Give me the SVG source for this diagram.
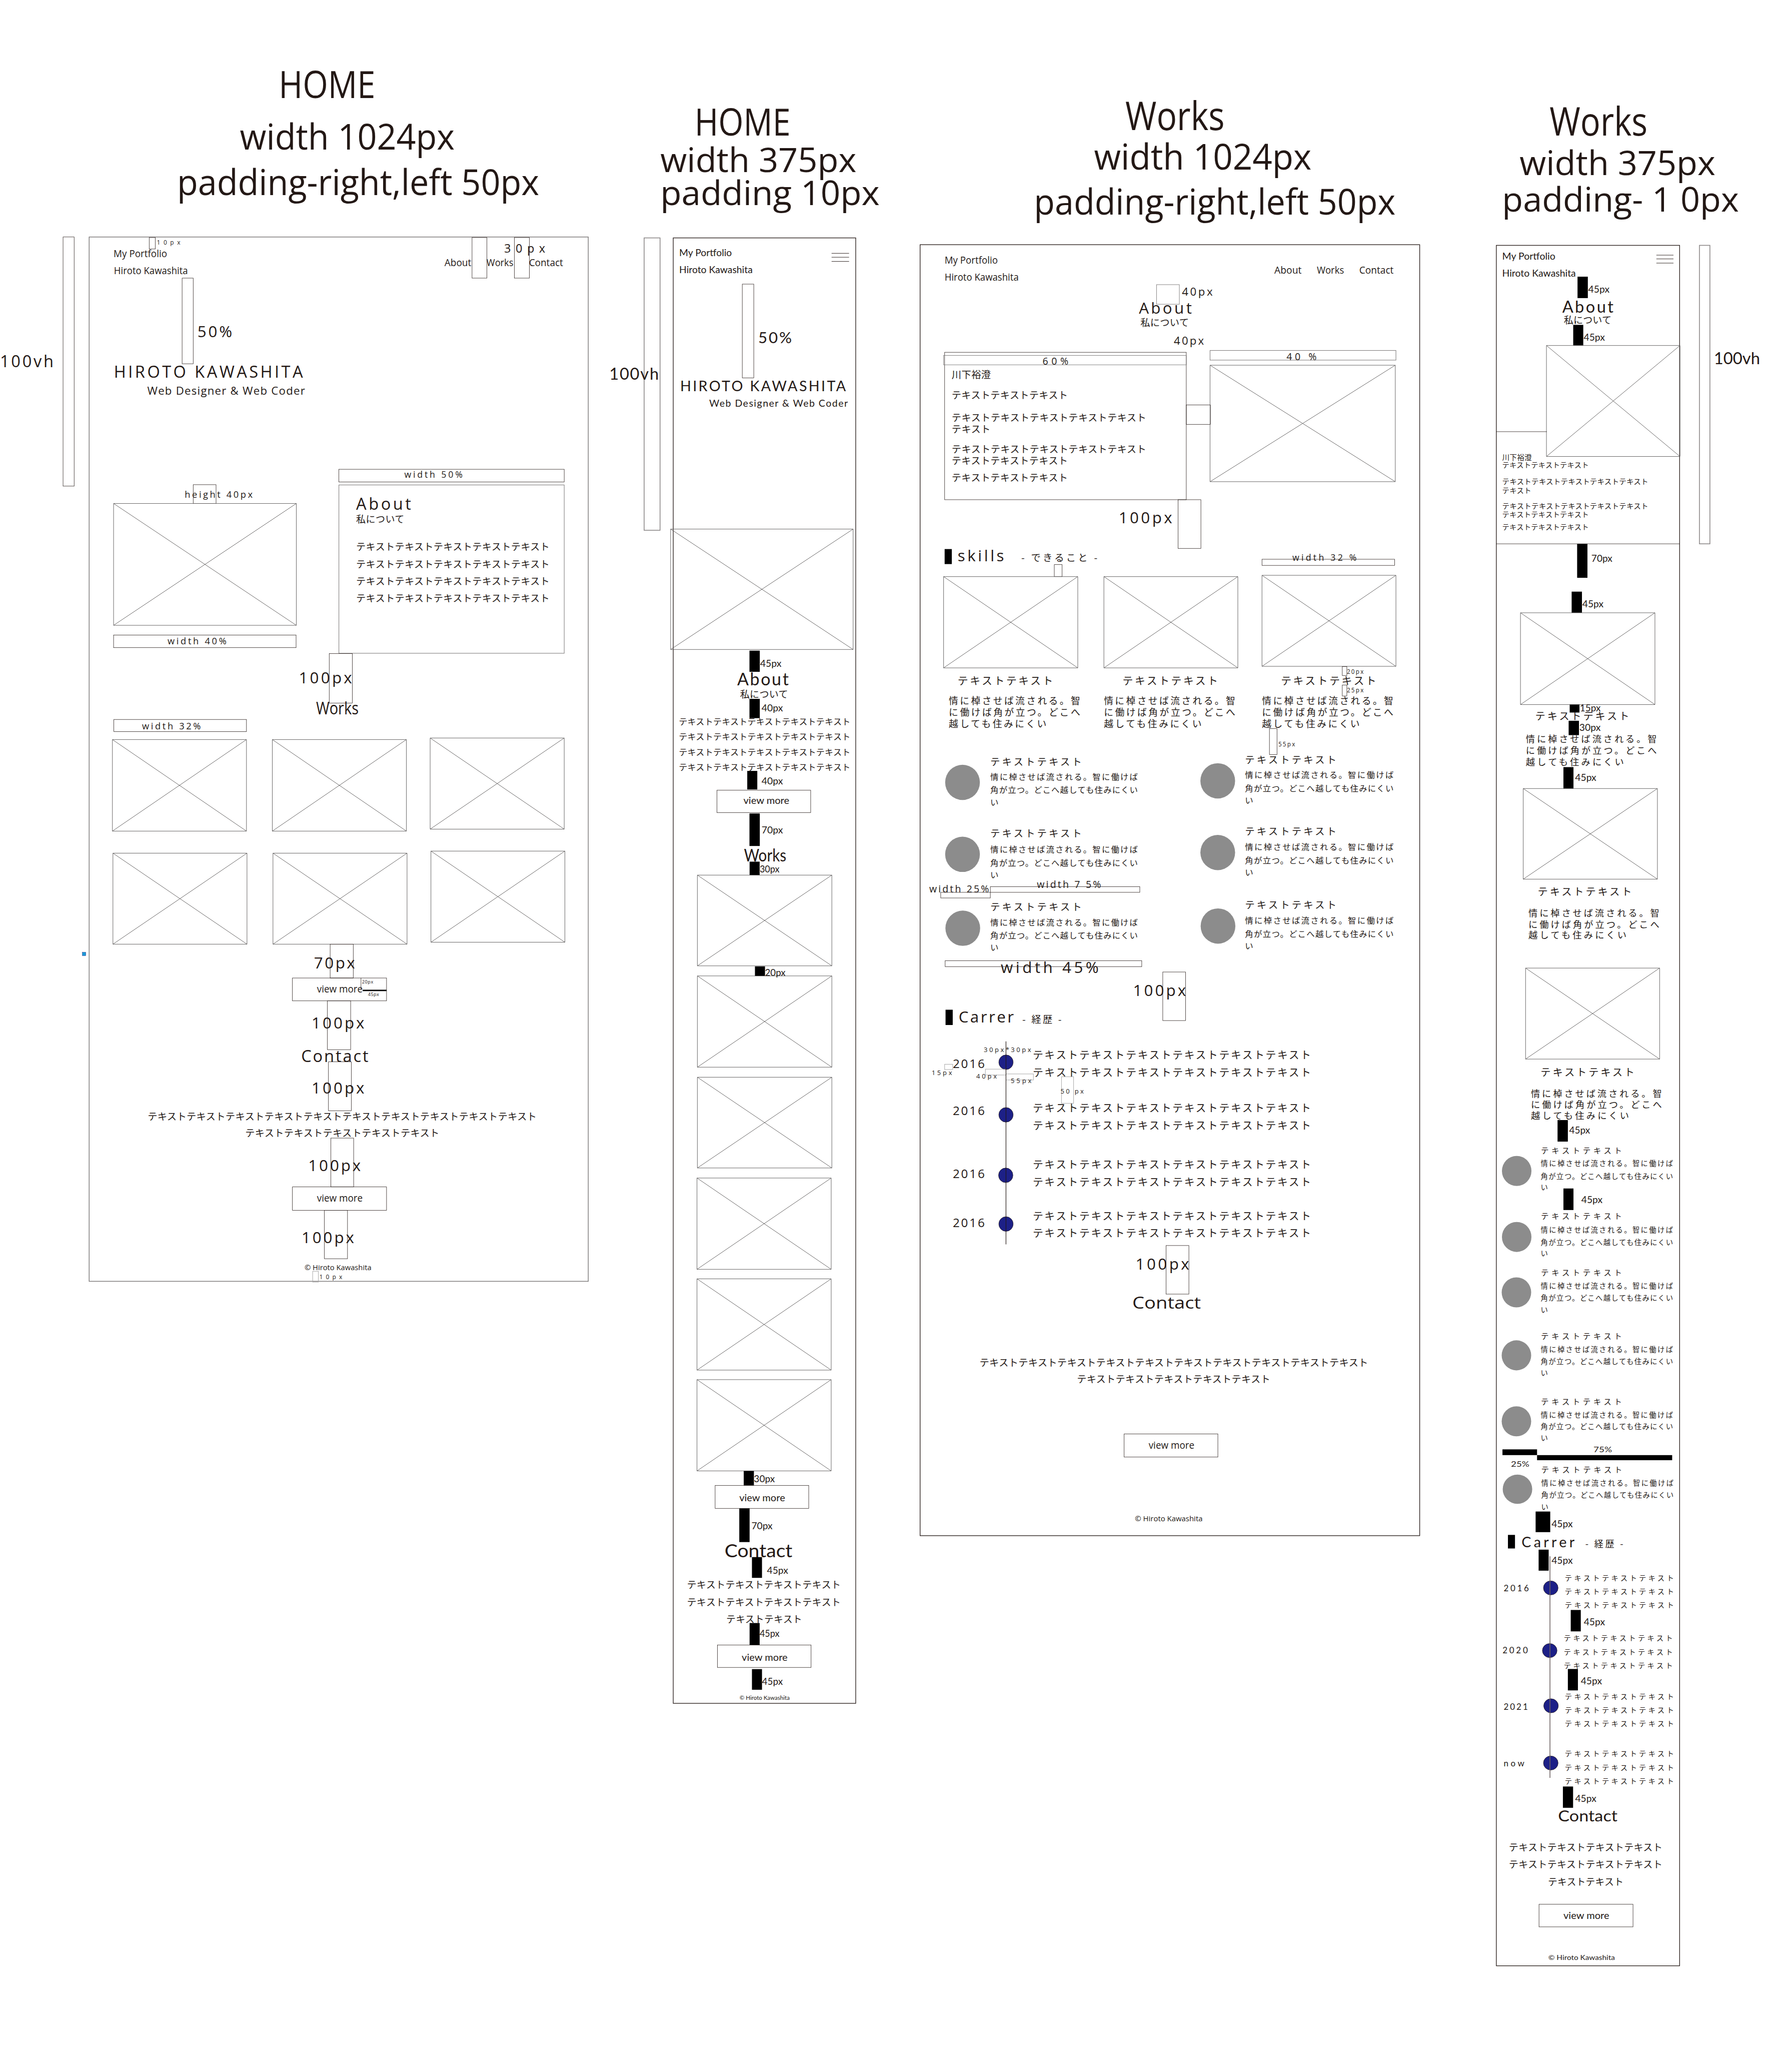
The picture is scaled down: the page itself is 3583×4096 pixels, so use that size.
<svg xmlns="http://www.w3.org/2000/svg" width="3583" height="4096" viewBox="0 0 3583 4096">
<style>
text{font-family:"Open Sans","Noto Sans CJK JP",sans-serif;fill:#231815}
.j{font-family:"Noto Sans CJK JP","Noto Sans CJK SC",sans-serif}
.g{font-family:"Lato","Noto Sans CJK JP",sans-serif}
.m{text-anchor:middle}
.fr{fill:none;stroke:#231815;stroke-width:0.5}
.fg{fill:none;stroke:#7b7878;stroke-width:0.55}
.b{fill:none;stroke:#231815;stroke-width:0.3}
.bg{fill:none;stroke:#a0a0a0;stroke-width:0.35}
.vb{fill:none;stroke:#8a8686;stroke-width:0.6}
.im{fill:none;stroke:#595757;stroke-width:0.35}
.k{fill:#000}
.c{fill:#8c8c8c}
.d{fill:#1d2087;stroke:#231815;stroke-width:0.3}
.ln{stroke:#231815;stroke-width:0.45;fill:none}
.hb{stroke:#231815;stroke-width:0.35}
</style>
<rect width="3583" height="4096" fill="#fff"/>
<g transform="scale(2.6102)">

<g id="titles">
<text class="m" x="250.5" y="75" font-size="29" textLength="74" lengthAdjust="spacingAndGlyphs">HOME</text>
<text class="m" x="266" y="114.6" font-size="27" textLength="164.5" lengthAdjust="spacingAndGlyphs">width 1024px</text>
<text class="m" x="274.3" y="149.4" font-size="27" textLength="277.4" lengthAdjust="spacingAndGlyphs">padding-right,left 50px</text>
<text class="m" x="568.8" y="104" font-size="29" textLength="73.5" lengthAdjust="spacingAndGlyphs">HOME</text>
<text class="m" x="580.9" y="131.6" font-size="26" textLength="150.2" lengthAdjust="spacingAndGlyphs">width 375px</text>
<text class="m" x="589.8" y="157.2" font-size="26" textLength="168" lengthAdjust="spacingAndGlyphs">padding 10px</text>
<text class="m" x="900" y="99.6" font-size="30" textLength="76" lengthAdjust="spacingAndGlyphs">Works</text>
<text class="m" x="921.3" y="130" font-size="27" textLength="166.5" lengthAdjust="spacingAndGlyphs">width 1024px</text>
<text class="m" x="930.5" y="164.4" font-size="27" textLength="277" lengthAdjust="spacingAndGlyphs">padding-right,left 50px</text>
<text class="m" x="1224.5" y="104" font-size="30" textLength="75" lengthAdjust="spacingAndGlyphs">Works</text>
<text class="m" x="1239" y="134.2" font-size="26" textLength="150" lengthAdjust="spacingAndGlyphs">width 375px</text>
<text class="m" x="1241.3" y="162.2" font-size="26" textLength="181.4" lengthAdjust="spacingAndGlyphs">padding- 1 0px</text>
</g>

<g id="home-1024">
<rect class="fg" x="68.3" y="181.5" width="382.3" height="799.8"/>
<rect class="b" x="48.3" y="181.5" width="8.5" height="190.8"/>
<text x="0" y="281.2" font-size="12.5" textLength="42.5" letter-spacing="1.5">100vh</text>
<rect class="b" x="114.3" y="181.9" width="4.7" height="8.8"/>
<text x="120.1" y="187.5" font-size="4.6" textLength="19" letter-spacing="1">10px</text>
<text x="87" y="196.9" font-size="7.5" textLength="41" lengthAdjust="spacingAndGlyphs">My Portfolio</text>
<text x="87.3" y="210" font-size="7.5" textLength="56.6" lengthAdjust="spacingAndGlyphs">Hiroto Kawashita</text>
<text x="340.5" y="204" font-size="7.5" textLength="20.5" lengthAdjust="spacingAndGlyphs">About</text>
<text x="372.7" y="204" font-size="7.5" textLength="20.5" lengthAdjust="spacingAndGlyphs">Works</text>
<text x="405.2" y="204" font-size="7.5" textLength="26.1" lengthAdjust="spacingAndGlyphs">Contact</text>
<rect class="b" x="361.6" y="181.9" width="11.4" height="31.1"/>
<rect class="b" x="394" y="181.9" width="11.5" height="31.1"/>
<text x="386.2" y="193.3" font-size="9" textLength="33.4" letter-spacing="2">30px</text>
<rect class="b" x="139.5" y="213" width="8.5" height="65.6"/>
<text x="151.2" y="258.2" font-size="12" textLength="28.1" letter-spacing="1.5">50%</text>
<text x="87.3" y="289.3" font-size="12.5" textLength="146.2" letter-spacing="1.5">HIROTO KAWASHITA</text>
<text x="112.8" y="302.2" font-size="8.5" textLength="121.3" letter-spacing="0.5">Web Designer &amp; Web Coder</text>
<rect class="b" x="259.6" y="359.4" width="172.6" height="9.7"/>
<text x="309.7" y="365.9" font-size="6.8" textLength="45.4" letter-spacing="0.8">width 50%</text>
<rect class="fg" x="259.6" y="371.4" width="172.6" height="128.9" style="stroke-width:0.4"/>
<text x="272.8" y="390.5" font-size="12.5" textLength="43.6" letter-spacing="1.5">About</text>
<text class="j" x="272.8" y="400.4" font-size="7.3" textLength="36.9">私について</text>
<text class="j" x="272.8" y="421.6" font-size="7.4" textLength="148.2">テキストテキストテキストテキストテキスト</text>
<text class="j" x="272.8" y="434.7" font-size="7.4" textLength="148.2">テキストテキストテキストテキストテキスト</text>
<text class="j" x="272.8" y="447.8" font-size="7.4" textLength="148.2">テキストテキストテキストテキストテキスト</text>
<text class="j" x="272.8" y="460.8" font-size="7.4" textLength="148.2">テキストテキストテキストテキストテキスト</text>
<text x="141.5" y="381.3" font-size="7" textLength="52.8" letter-spacing="0.8">height 40px</text>
<rect class="b" x="148" y="371.2" width="17.5" height="14.4"/>
<path class="im" d="M87 385.6h140v93.3h-140zl140 93.3m-140 0l140 -93.3"/>
<rect class="b" x="87" y="486.4" width="139.8" height="9.6"/>
<text x="128.3" y="493.4" font-size="7" textLength="46" letter-spacing="0.8">width 40%</text>
<rect class="b" x="252.2" y="500.5" width="17.7" height="38"/>
<text x="228.9" y="523.4" font-size="12" textLength="42.2" letter-spacing="1.5">100px</text>
<text x="242.1" y="547.1" font-size="13" textLength="32.6" lengthAdjust="spacingAndGlyphs">Works</text>
<rect class="b" x="87.2" y="551" width="101.6" height="9.3"/>
<text x="108.8" y="558.7" font-size="7" textLength="45.8" letter-spacing="0.8">width 32%</text>
<path class="im" d="M86.1 566.4h102.7v70.1h-102.7zl102.7 70.1m-102.7 0l102.7 -70.1"/>
<path class="im" d="M208.6 566.4h102.7v70.1h-102.7zl102.7 70.1m-102.7 0l102.7 -70.1"/>
<path class="im" d="M329.5 565.2h102.7v69.8h-102.7zl102.7 69.8m-102.7 0l102.7 -69.8"/>
<path class="im" d="M86.5 653.4h102.7v69.7h-102.7zl102.7 69.7m-102.7 0l102.7 -69.7"/>
<path class="im" d="M209.1 653.4h102.7v69.7h-102.7zl102.7 69.7m-102.7 0l102.7 -69.7"/>
<path class="im" d="M330.1 651.8h102.6v69.8h-102.6zl102.6 69.8m-102.6 0l102.6 -69.8"/>
<rect x="63.1" y="729.3" width="2.6" height="2.6" fill="#1a9ad6" stroke="#1d2087" stroke-width="0.2"/>
<rect class="b" x="252.9" y="723.1" width="17.7" height="25.9"/>
<text x="240.5" y="741.6" font-size="12" textLength="32.9" letter-spacing="1.5">70px</text>
<rect class="b" x="224" y="749" width="72.1" height="17.5"/>
<text x="242.8" y="760" font-size="7.5" textLength="35" lengthAdjust="spacingAndGlyphs">view more</text>
<line class="b" x1="276.5" y1="749" x2="276.5" y2="757.6"/>
<text x="277.3" y="753.3" font-size="3.5" textLength="9" letter-spacing="0.4">20px</text>
<line x1="277.8" y1="758.5" x2="296.1" y2="758.5" stroke="#000" stroke-width="1.1"/>
<text x="281.9" y="762.8" font-size="3.5" textLength="8.8" letter-spacing="0.4">45px</text>
<rect class="b" x="250.8" y="766.5" width="17.8" height="37.4"/>
<text x="238.7" y="787.7" font-size="12" textLength="41.9" letter-spacing="1.5">100px</text>
<text x="230.7" y="813.2" font-size="12.5" textLength="52" letter-spacing="0.5">Contact</text>
<rect class="b" x="251.6" y="813.2" width="17.5" height="37.5"/>
<text x="238.7" y="837.4" font-size="12" textLength="41.9" letter-spacing="1.5">100px</text>
<text class="j" x="113.1" y="857.7" font-size="7.45" textLength="298">テキストテキストテキストテキストテキストテキストテキストテキストテキストテキスト</text>
<text class="j" x="187.8" y="870.6" font-size="7.4" textLength="148.7">テキストテキストテキストテキストテキスト</text>
<rect class="b" x="253.4" y="871.6" width="17.5" height="37.4"/>
<text x="236.1" y="896.8" font-size="12" textLength="41.7" letter-spacing="1.5">100px</text>
<rect class="b" x="224" y="909" width="72.1" height="17.9"/>
<text x="242.8" y="920.4" font-size="7.5" textLength="35" lengthAdjust="spacingAndGlyphs">view more</text>
<rect class="b" x="248.5" y="926.9" width="17.7" height="37.1"/>
<text x="231" y="952.1" font-size="12" textLength="41.7" letter-spacing="1.5">100px</text>
<text x="233.3" y="972.7" font-size="5.5" textLength="51.2" lengthAdjust="spacingAndGlyphs">© Hiroto Kawashita</text>
<rect class="bg" x="239.5" y="973.6" width="4.4" height="8.3"/>
<text x="244.6" y="979.7" font-size="4.6" textLength="18.6" letter-spacing="1">10px</text>
</g>

<g id="home-375">
<rect class="vb" x="493.4" y="182.2" width="12.2" height="223.9"/>
<text class="g" x="466.7" y="290.9" font-size="12.5" textLength="40.9" letter-spacing="3">100vh</text>
<rect class="fr" x="515.7" y="182.2" width="139.8" height="1122.3"/>
<text class="g" x="520.3" y="196" font-size="7.5" textLength="40.3" lengthAdjust="spacingAndGlyphs">My Portfolio</text>
<text class="g" x="520.3" y="209.3" font-size="7.5" textLength="56.2" lengthAdjust="spacingAndGlyphs">Hiroto Kawashita</text>
<path class="hb" d="M637 194h13.4M637 197h13.4M637 200.2h13.4"/>
<rect class="b" x="568.6" y="217.6" width="8.8" height="71.8"/>
<text class="g" x="580.8" y="262.8" font-size="12" textLength="27.7" letter-spacing="2">50%</text>
<text class="g" x="521" y="299.7" font-size="11" textLength="129.4" letter-spacing="2.5">HIROTO KAWASHITA</text>
<text class="g" x="543.3" y="311.3" font-size="7.5" textLength="107.1" letter-spacing="1">Web Designer &amp; Web Coder</text>
<path class="im" d="M513.7 405.2h139.8v92.2h-139.8zl139.8 92.2m-139.8 0l139.8 -92.2"/>
<rect class="k" x="574.1" y="498.3" width="7.9" height="16.2"/>
<text class="g" x="582.2" y="510.7" font-size="7.2" textLength="16.4" lengthAdjust="spacingAndGlyphs">45px</text>
<text class="g" x="564.7" y="524.8" font-size="13" textLength="42.4" letter-spacing="3">About</text>
<text class="j" x="566.9" y="534.6" font-size="7.3" textLength="36.7">私について</text>
<rect class="k" x="574.1" y="535.2" width="7.9" height="14.8"/>
<text class="g" x="583.4" y="544.6" font-size="7.2" textLength="16.3" lengthAdjust="spacingAndGlyphs">40px</text>
<text class="j" x="520" y="555.3" font-size="6.57" textLength="131.4">テキストテキストテキストテキストテキスト</text>
<text class="j" x="520" y="566.8" font-size="6.57" textLength="131.4">テキストテキストテキストテキストテキスト</text>
<text class="j" x="520" y="578.6" font-size="6.57" textLength="131.4">テキストテキストテキストテキストテキスト</text>
<text class="j" x="520" y="590.1" font-size="6.57" textLength="131.4">テキストテキストテキストテキストテキスト</text>
<rect class="k" x="572.4" y="590.4" width="7.7" height="14.2"/>
<text class="g" x="583.4" y="600.8" font-size="7.2" textLength="16.3" lengthAdjust="spacingAndGlyphs">40px</text>
<rect class="b" x="549.2" y="605.2" width="71.8" height="17.1"/>
<text class="g" x="569.5" y="615.8" font-size="7" textLength="35.1" lengthAdjust="spacingAndGlyphs">view more</text>
<rect class="k" x="574.1" y="623" width="7.9" height="24.9"/>
<text class="g" x="583.4" y="638.4" font-size="7.2" textLength="16.3" lengthAdjust="spacingAndGlyphs">70px</text>
<text class="g" x="569.9" y="659.9" font-size="13" textLength="32.4" lengthAdjust="spacingAndGlyphs">Works</text>
<rect class="k" x="574.2" y="659.9" width="7.7" height="10.3"/>
<text class="g" x="581.9" y="668" font-size="7.2" textLength="15.2" lengthAdjust="spacingAndGlyphs">30px</text>
<path class="im" d="M534.2 670.2h103v69.5h-103zl103 69.5m-103 0l103 -69.5"/>
<path class="im" d="M534.2 747.4h103v69.9h-103zl103 69.9m-103 0l103 -69.9"/>
<path class="im" d="M534.2 825h103v69.5h-103zl103 69.5m-103 0l103 -69.5"/>
<path class="im" d="M533.9 902.2h102.8v69.9h-102.8zl102.8 69.9m-102.8 0l102.8 -69.9"/>
<path class="im" d="M533.9 979.4h102.8v69.9h-102.8zl102.8 69.9m-102.8 0l102.8 -69.9"/>
<path class="im" d="M533.9 1056.6h102.8v69.9h-102.8zl102.8 69.9m-102.8 0l102.8 -69.9"/>
<rect class="k" x="578.3" y="740.1" width="7.7" height="7.3"/>
<text class="g" x="586" y="747.4" font-size="7.2" textLength="15.7" lengthAdjust="spacingAndGlyphs">20px</text>
<rect class="k" x="569.7" y="1126.5" width="7.8" height="11.1"/>
<text class="g" x="577.5" y="1135" font-size="7.2" textLength="16" lengthAdjust="spacingAndGlyphs">30px</text>
<rect class="b" x="547.8" y="1137.6" width="71.7" height="17.6"/>
<text class="g" x="566.3" y="1149.6" font-size="7" textLength="35.1" lengthAdjust="spacingAndGlyphs">view more</text>
<rect class="k" x="566.3" y="1155.2" width="7.9" height="25.8"/>
<text class="g" x="575.6" y="1171" font-size="7.2" textLength="16.2" lengthAdjust="spacingAndGlyphs">70px</text>
<text class="g" x="555" y="1192.5" font-size="14" textLength="52" lengthAdjust="spacingAndGlyphs">Contact</text>
<rect class="k" x="576" y="1192.5" width="7.7" height="15.9"/>
<text class="g" x="587.5" y="1205.4" font-size="7.2" textLength="16.2" lengthAdjust="spacingAndGlyphs">45px</text>
<text class="j" x="526.2" y="1216.5" font-size="7.36" textLength="117.8">テキストテキストテキストテキスト</text>
<text class="j" x="526.2" y="1229.8" font-size="7.36" textLength="117.8">テキストテキストテキストテキスト</text>
<text class="j" x="556.3" y="1243" font-size="7.26" textLength="58.1">テキストテキスト</text>
<rect class="k" x="574.2" y="1243" width="7.7" height="16.8"/>
<text class="g" x="581.9" y="1253.4" font-size="7.2" textLength="15.2" lengthAdjust="spacingAndGlyphs">45px</text>
<rect class="b" x="549.6" y="1259.8" width="71.7" height="17.2"/>
<text class="g" x="568.2" y="1271.8" font-size="7" textLength="35.1" lengthAdjust="spacingAndGlyphs">view more</text>
<rect class="k" x="576" y="1278.3" width="7.7" height="15.8"/>
<text class="g" x="583.7" y="1290.3" font-size="7.2" textLength="15.9" lengthAdjust="spacingAndGlyphs">45px</text>
<text class="g" x="566.5" y="1301.9" font-size="4.5" textLength="38.4" lengthAdjust="spacingAndGlyphs">© Hiroto Kawashita</text>
</g>

<g id="works-1024">
<rect class="fr" x="704.8" y="187.4" width="382.7" height="988.7"/>
<text x="723.6" y="201.9" font-size="7.5" textLength="40.7" lengthAdjust="spacingAndGlyphs">My Portfolio</text>
<text x="723.6" y="215" font-size="7.5" textLength="56.7" lengthAdjust="spacingAndGlyphs">Hiroto Kawashita</text>
<text x="976.2" y="209.5" font-size="7.5" textLength="20.8" lengthAdjust="spacingAndGlyphs">About</text>
<text x="1008.7" y="209.5" font-size="7.5" textLength="20.8" lengthAdjust="spacingAndGlyphs">Works</text>
<text x="1041.2" y="209.5" font-size="7.5" textLength="26.3" lengthAdjust="spacingAndGlyphs">Contact</text>
<rect class="fg" x="885.9" y="218" width="17.5" height="15" style="stroke-width:0.35"/>
<text x="905.4" y="226.3" font-size="8.5" textLength="24.5" letter-spacing="1">40px</text>
<text x="872.4" y="240.4" font-size="12" textLength="42.5" letter-spacing="2">About</text>
<text class="j" x="873.6" y="249.9" font-size="7.4" textLength="37.1">私について</text>
<text x="899.2" y="264" font-size="8.5" textLength="24" letter-spacing="1">40px</text>
<rect class="b" x="723.6" y="269.8" width="185.1" height="112.9"/>
<rect class="fg" x="722.8" y="272.2" width="185.9" height="7.2" style="stroke-width:0.35"/>
<text x="798.6" y="279.3" font-size="7.5" textLength="20.8" letter-spacing="1">60%</text>
<text class="j" x="729" y="289.6" font-size="7.4" textLength="30">川下裕澄</text>
<text class="j" x="729" y="305.4" font-size="7.4" textLength="89">テキストテキストテキスト</text>
<text class="j" x="729" y="322.7" font-size="7.4" textLength="149">テキストテキストテキストテキストテキスト</text>
<text class="j" x="729" y="331.5" font-size="7.4" textLength="29.7">テキスト</text>
<text class="j" x="729" y="346.9" font-size="7.4" textLength="149">テキストテキストテキストテキストテキスト</text>
<text class="j" x="729" y="355.7" font-size="7.4" textLength="89">テキストテキストテキスト</text>
<text class="j" x="729" y="368.6" font-size="7.4" textLength="89">テキストテキストテキスト</text>
<rect class="b" x="908.7" y="310.1" width="18.5" height="14.9"/>
<rect class="fg" x="926.9" y="268.4" width="142.4" height="7.4" style="stroke-width:0.4"/>
<text x="985.5" y="275.8" font-size="7.5" textLength="24" letter-spacing="1">40 %</text>
<path class="im" d="M926.9 279.7h141.9v89.2h-141.9zl141.9 89.2m-141.9 0l141.9 -89.2"/>
<rect class="b" x="902.4" y="382.7" width="17.5" height="37.3"/>
<text x="856.9" y="400.8" font-size="12" textLength="42.5" letter-spacing="1.5">100px</text>
<rect class="k" x="723.6" y="420.5" width="5.5" height="11.5"/>
<text x="733.6" y="430" font-size="12" textLength="37.5" letter-spacing="2">skills</text>
<text class="j" x="782.3" y="430" font-size="7.4" textLength="58.3">- できること -</text>
<rect class="b" x="966.7" y="428.3" width="101.6" height="4.7"/>
<text x="990" y="429.5" font-size="6.8" textLength="50" letter-spacing="0.8">width 32 %</text>
<rect class="b" x="807.6" y="432.4" width="6" height="9.2"/>
<path class="im" d="M722.8 441.6h102.8v69.9h-102.8zl102.8 69.9m-102.8 0l102.8 -69.9"/>
<path class="im" d="M845.6 441.6h102.6v69.9h-102.6zl102.6 69.9m-102.6 0l102.6 -69.9"/>
<path class="im" d="M966.7 440.6h102.6v69.7h-102.6zl102.6 69.7m-102.6 0l102.6 -69.7"/>
<text class="j" x="733.6" y="524.2" font-size="8" textLength="73">テキストテキスト</text>
<text class="j" x="859.9" y="524.2" font-size="8" textLength="73">テキストテキスト</text>
<text class="j" x="981.2" y="524.2" font-size="8" textLength="73">テキストテキスト</text>
<text class="j" x="726.8" y="539.6" font-size="7.2" textLength="100.6">情に棹させば流される。智</text>
<text class="j" x="726.8" y="548.4" font-size="7.2" textLength="100.6">に働けば角が立つ。どこへ</text>
<text class="j" x="726.8" y="557" font-size="7.2" textLength="74.8">越しても住みにくい</text>
<text class="j" x="845.6" y="539.6" font-size="7.2" textLength="100.6">情に棹させば流される。智</text>
<text class="j" x="845.6" y="548.4" font-size="7.2" textLength="100.6">に働けば角が立つ。どこへ</text>
<text class="j" x="845.6" y="557" font-size="7.2" textLength="74.8">越しても住みにくい</text>
<text class="j" x="966.7" y="539.6" font-size="7.2" textLength="100.6">情に棹させば流される。智</text>
<text class="j" x="966.7" y="548.4" font-size="7.2" textLength="100.6">に働けば角が立つ。どこへ</text>
<text class="j" x="966.7" y="557" font-size="7.2" textLength="74.8">越しても住みにくい</text>
<rect class="b" x="1028.2" y="510.5" width="3.5" height="6.9"/>
<text x="1031.7" y="516" font-size="4.5" textLength="13.3" letter-spacing="0.5">20px</text>
<rect class="b" x="1028.2" y="524.6" width="3.5" height="8.4"/>
<text x="1031.7" y="530.3" font-size="4.5" textLength="13.3" letter-spacing="0.5">25px</text>
<rect class="b" x="972.4" y="558" width="5.8" height="19.9"/>
<text x="979.2" y="571.7" font-size="4.5" textLength="13.3" letter-spacing="0.5">55px</text>
<ellipse class="c" cx="737.3" cy="599.2" rx="13.3" ry="13.5"/>
<ellipse class="c" cx="737.3" cy="654.3" rx="13.3" ry="13.5"/>
<ellipse class="c" cx="737.5" cy="710.9" rx="13.3" ry="13.5"/>
<ellipse class="c" cx="932.8" cy="598" rx="13.3" ry="13.5"/>
<ellipse class="c" cx="932.8" cy="652.9" rx="13.3" ry="13.5"/>
<ellipse class="c" cx="933" cy="709.2" rx="13.3" ry="13.5"/>
<text class="j" x="758.6" y="586.1" font-size="7.5" textLength="70">テキストテキスト</text>
<text class="j" x="758.6" y="597.1" font-size="6.3" textLength="113">情に棹させば流される。智に働けば</text>
<text class="j" x="758.6" y="607.2" font-size="6.3" textLength="113">角が立つ。どこへ越しても住みにくい</text>
<text class="j" x="758.6" y="616.8" font-size="6.3">い</text>
<text class="j" x="758.6" y="641" font-size="7.5" textLength="70">テキストテキスト</text>
<text class="j" x="758.6" y="652.9" font-size="6.3" textLength="113">情に棹させば流される。智に働けば</text>
<text class="j" x="758.6" y="663.1" font-size="6.3" textLength="113">角が立つ。どこへ越しても住みにくい</text>
<text class="j" x="758.6" y="672.3" font-size="6.3">い</text>
<text class="j" x="758.6" y="697.3" font-size="7.5" textLength="70">テキストテキスト</text>
<text class="j" x="758.6" y="708.6" font-size="6.3" textLength="113">情に棹させば流される。智に働けば</text>
<text class="j" x="758.6" y="718.8" font-size="6.3" textLength="113">角が立つ。どこへ越しても住みにくい</text>
<text class="j" x="758.6" y="728" font-size="6.3">い</text>
<text class="j" x="953.7" y="584.6" font-size="7.5" textLength="70">テキストテキスト</text>
<text class="j" x="953.7" y="595.9" font-size="6.3" textLength="113.8">情に棹させば流される。智に働けば</text>
<text class="j" x="953.7" y="606.1" font-size="6.3" textLength="113.8">角が立つ。どこへ越しても住みにくい</text>
<text class="j" x="953.7" y="615.4" font-size="6.3">い</text>
<text class="j" x="953.7" y="639.5" font-size="7.5" textLength="70">テキストテキスト</text>
<text class="j" x="953.7" y="650.8" font-size="6.3" textLength="113.8">情に棹させば流される。智に働けば</text>
<text class="j" x="953.7" y="661.1" font-size="6.3" textLength="113.8">角が立つ。どこへ越しても住みにくい</text>
<text class="j" x="953.7" y="670.3" font-size="6.3">い</text>
<text class="j" x="953.7" y="695.9" font-size="7.5" textLength="70">テキストテキスト</text>
<text class="j" x="953.7" y="707.1" font-size="6.3" textLength="113.8">情に棹させば流される。智に働けば</text>
<text class="j" x="953.7" y="717.4" font-size="6.3" textLength="113.8">角が立つ。どこへ越しても住みにくい</text>
<text class="j" x="953.7" y="726.6" font-size="6.3">い</text>
<rect class="b" x="720.6" y="683.4" width="38" height="4.3"/>
<text x="711.8" y="683.4" font-size="7.5" textLength="46.8" letter-spacing="1">width 25%</text>
<rect class="b" x="758.6" y="679.1" width="114.5" height="4.3"/>
<text x="794.3" y="679.9" font-size="7.5" textLength="50.1" letter-spacing="1">width 7 5%</text>
<rect class="b" x="724" y="735.8" width="150.6" height="4.5"/>
<text x="766.6" y="745" font-size="12" textLength="76.5" letter-spacing="1.5">width 45%</text>
<rect class="b" x="890.7" y="744.4" width="17.5" height="37.2"/>
<text x="867.9" y="762.6" font-size="12" textLength="42" letter-spacing="1.5">100px</text>
<rect class="k" x="724.3" y="773.3" width="5.5" height="11.7"/>
<text x="734.3" y="783" font-size="12" textLength="44.3" letter-spacing="2">Carrer</text>
<text class="j" x="783.1" y="783.5" font-size="7.4" textLength="30">- 経歴 -</text>
<ellipse class="d" cx="770.6" cy="813.5" rx="5.5" ry="5.6"/>
<ellipse class="d" cx="770.6" cy="853.8" rx="5.5" ry="5.6"/>
<ellipse class="d" cx="770.4" cy="900.1" rx="5.5" ry="5.6"/>
<ellipse class="d" cx="770.6" cy="937.4" rx="5.5" ry="5.6"/>
<text x="729.8" y="818" font-size="9.3" textLength="25.5" letter-spacing="1">2016</text>
<text x="729.8" y="853.8" font-size="9.3" textLength="25.5" letter-spacing="1">2016</text>
<text x="729.8" y="902.2" font-size="9.3" textLength="25.5" letter-spacing="1">2016</text>
<text x="729.8" y="939.7" font-size="9.3" textLength="25.5" letter-spacing="1">2016</text>
<text class="j" x="791.1" y="810.8" font-size="8" textLength="213.1">テキストテキストテキストテキストテキストテキスト</text>
<text class="j" x="791.1" y="824.1" font-size="8" textLength="213.1">テキストテキストテキストテキストテキストテキスト</text>
<text class="j" x="791.1" y="851.3" font-size="8" textLength="213.1">テキストテキストテキストテキストテキストテキスト</text>
<text class="j" x="791.1" y="864.7" font-size="8" textLength="213.1">テキストテキストテキストテキストテキストテキスト</text>
<text class="j" x="791.1" y="894.7" font-size="8" textLength="213.1">テキストテキストテキストテキストテキストテキスト</text>
<text class="j" x="791.1" y="908" font-size="8" textLength="213.1">テキストテキストテキストテキストテキストテキスト</text>
<text class="j" x="791.1" y="933.9" font-size="8" textLength="213.1">テキストテキストテキストテキストテキストテキスト</text>
<text class="j" x="791.1" y="947.2" font-size="8" textLength="213.1">テキストテキストテキストテキストテキストテキスト</text>
<text x="753.6" y="805.8" font-size="5" textLength="36.7" letter-spacing="0.5">30px*30px</text>
<rect class="bg" x="723.6" y="815.1" width="6.2" height="4"/>
<text x="713.6" y="823.3" font-size="5" textLength="16.2" letter-spacing="0.5">15px</text>
<rect class="bg" x="754.8" y="818.8" width="15.8" height="4.5"/>
<text x="747.8" y="825.8" font-size="5" textLength="16.3" letter-spacing="0.5">40px</text>
<rect class="bg" x="770.6" y="822.5" width="21" height="4.6"/>
<text x="774.3" y="829.3" font-size="5" textLength="16.3" letter-spacing="0.5">55px</text>
<rect class="bg" x="813.1" y="824.6" width="9.3" height="20.4"/>
<text x="812.4" y="837.5" font-size="5" textLength="18.2" letter-spacing="0.5">50 px</text>
<rect class="b" x="893.2" y="953.9" width="17.5" height="37.2"/>
<text x="869.9" y="972.2" font-size="12" textLength="42.5" letter-spacing="1.5">100px</text>
<text x="867.4" y="1002.2" font-size="12.5" textLength="52.5" lengthAdjust="spacingAndGlyphs">Contact</text>
<text class="j" x="750.3" y="1046.2" font-size="7.45" textLength="297.7">テキストテキストテキストテキストテキストテキストテキストテキストテキストテキスト</text>
<text class="j" x="824.9" y="1059" font-size="7.4" textLength="148.1">テキストテキストテキストテキストテキスト</text>
<rect class="b" x="861.1" y="1098.2" width="71.8" height="17.7"/>
<text x="879.9" y="1109.4" font-size="7.5" textLength="35" lengthAdjust="spacingAndGlyphs">view more</text>
<text x="869.4" y="1165.2" font-size="5.5" textLength="51.8" lengthAdjust="spacingAndGlyphs">© Hiroto Kawashita</text>
</g>

<g id="works-375">
<rect class="fr" x="1146.2" y="187.9" width="140.4" height="1317.6"/>
<rect class="vb" x="1301.8" y="187.9" width="8" height="228.6"/>
<text class="g" x="1312.8" y="279" font-size="12.5" textLength="35.4" lengthAdjust="spacingAndGlyphs">100vh</text>
<text class="g" x="1150.7" y="198.9" font-size="7.2" textLength="40.7" lengthAdjust="spacingAndGlyphs">My Portfolio</text>
<text class="g" x="1150.7" y="211.9" font-size="7.2" textLength="56.4" lengthAdjust="spacingAndGlyphs">Hiroto Kawashita</text>
<path class="hb" d="M1268.8 195.4h13.1M1268.8 198.3h13.1M1268.8 201.5h13.1"/>
<rect class="k" x="1208.4" y="211.9" width="7.9" height="16.4"/>
<text class="g" x="1216.6" y="224.3" font-size="7.2" textLength="16.3" lengthAdjust="spacingAndGlyphs">45px</text>
<text class="g" x="1196.7" y="239.3" font-size="12.5" textLength="42.2" letter-spacing="3">About</text>
<text class="j" x="1197.9" y="247.9" font-size="7.3" textLength="36.5">私について</text>
<rect class="k" x="1205.1" y="248.8" width="7.7" height="15.8"/>
<text class="g" x="1213.1" y="260.9" font-size="7.2" textLength="16.3" lengthAdjust="spacingAndGlyphs">45px</text>
<path class="im" d="M1184.6 264.6h102.3v85h-102.3zl102.3 85m-102.3 0l102.3 -85"/>
<line class="b" x1="1146.2" y1="330.6" x2="1184.9" y2="330.6"/>
<text class="j" x="1150.7" y="352.5" font-size="5.6" textLength="22.6">川下裕澄</text>
<text class="j" x="1150.7" y="358.3" font-size="5.5" textLength="66.3">テキストテキストテキスト</text>
<text class="j" x="1150.7" y="371" font-size="5.6" textLength="111.9">テキストテキストテキストテキストテキスト</text>
<text class="j" x="1150.7" y="377.6" font-size="5.5" textLength="22.2">テキスト</text>
<text class="j" x="1150.7" y="389.7" font-size="5.6" textLength="111.9">テキストテキストテキストテキストテキスト</text>
<text class="j" x="1150.7" y="396.3" font-size="5.5" textLength="66.3">テキストテキストテキスト</text>
<text class="j" x="1150.7" y="405.9" font-size="5.5" textLength="66.3">テキストテキストテキスト</text>
<line class="b" x1="1146.2" y1="416.5" x2="1286.6" y2="416.5"/>
<rect class="k" x="1208.1" y="416.5" width="7.9" height="26"/>
<text class="g" x="1219" y="430.4" font-size="7.2" textLength="16.1" lengthAdjust="spacingAndGlyphs">70px</text>
<rect class="k" x="1203.9" y="453.1" width="7.9" height="16.2"/>
<text class="g" x="1212.1" y="465" font-size="7.2" textLength="16.2" lengthAdjust="spacingAndGlyphs">45px</text>
<path class="im" d="M1164.7 469.3h103v70.3h-103zl103 70.3m-103 0l103 -70.3"/>
<rect class="k" x="1202.4" y="539.6" width="7.5" height="6.1"/>
<text class="g" x="1210.2" y="544.8" font-size="7.2" textLength="15.9" lengthAdjust="spacingAndGlyphs">15px</text>
<text class="j" x="1176" y="551.4" font-size="7.8" textLength="72">テキストテキスト</text>
<rect class="k" x="1201.6" y="552" width="7.9" height="11"/>
<text class="g" x="1209.8" y="559.8" font-size="7.2" textLength="16.3" lengthAdjust="spacingAndGlyphs">30px</text>
<text class="j" x="1168.8" y="568.7" font-size="7" textLength="100.3">情に棹させば流される。智</text>
<text class="j" x="1168.8" y="577.4" font-size="7" textLength="100.3">に働けば角が立つ。どこへ</text>
<text class="j" x="1168.8" y="586" font-size="7" textLength="75.1">越しても住みにくい</text>
<rect class="k" x="1197.6" y="587.5" width="7.7" height="16.4"/>
<text class="g" x="1206.5" y="598.1" font-size="7.2" textLength="16.3" lengthAdjust="spacingAndGlyphs">45px</text>
<path class="im" d="M1166.8 603.9h102.8v69.4h-102.8zl102.8 69.4m-102.8 0l102.8 -69.4"/>
<text class="j" x="1177.9" y="685.6" font-size="7.8" textLength="72">テキストテキスト</text>
<text class="j" x="1170.8" y="701.9" font-size="7" textLength="100.3">情に棹させば流される。智</text>
<text class="j" x="1170.8" y="710.5" font-size="7" textLength="100.3">に働けば角が立つ。どこへ</text>
<text class="j" x="1170.8" y="718.9" font-size="7" textLength="75.1">越しても住みにくい</text>
<path class="im" d="M1168.6 741.4h102.7v69.7h-102.7zl102.7 69.7m-102.7 0l102.7 -69.7"/>
<text class="j" x="1180.1" y="824.2" font-size="7.8" textLength="72">テキストテキスト</text>
<text class="j" x="1172.7" y="840" font-size="7" textLength="100.3">情に棹させば流される。智</text>
<text class="j" x="1172.7" y="848.6" font-size="7" textLength="100.3">に働けば角が立つ。どこへ</text>
<text class="j" x="1172.7" y="857" font-size="7" textLength="75.1">越しても住みにくい</text>
<rect class="k" x="1193.1" y="857.8" width="7.9" height="16.5"/>
<text class="g" x="1202" y="868.3" font-size="7.2" textLength="16" lengthAdjust="spacingAndGlyphs">45px</text>
<ellipse class="c" cx="1161.8" cy="896.8" rx="11.3" ry="11.5"/>
<ellipse class="c" cx="1161.8" cy="947.3" rx="11.3" ry="11.5"/>
<ellipse class="c" cx="1161.6" cy="989.8" rx="11.3" ry="11.5"/>
<ellipse class="c" cx="1161.6" cy="1038" rx="11.3" ry="11.5"/>
<ellipse class="c" cx="1161.6" cy="1088.5" rx="11.3" ry="11.5"/>
<ellipse class="c" cx="1162.4" cy="1140.5" rx="11.3" ry="11.2"/>
<text class="j" x="1180.4" y="883.5" font-size="6" textLength="62">テキストテキスト</text>
<text class="j" x="1180.2" y="893.2" font-size="5.5" textLength="101.3">情に棹させば流される。智に働けば</text>
<text class="j" x="1180.2" y="902.9" font-size="5.5" textLength="101.3">角が立つ。どこへ越しても住みにくい</text>
<text class="j" x="1180.2" y="911.5" font-size="5.5">い</text>
<rect class="k" x="1197.6" y="910.2" width="7.7" height="16.5"/>
<text class="g" x="1211.3" y="921.5" font-size="7.2" textLength="16.2" lengthAdjust="spacingAndGlyphs">45px</text>
<text class="j" x="1180.4" y="933.8" font-size="6" textLength="62">テキストテキスト</text>
<text class="j" x="1180.2" y="943.8" font-size="5.5" textLength="101.3">情に棹させば流される。智に働けば</text>
<text class="j" x="1180.2" y="953.4" font-size="5.5" textLength="101.3">角が立つ。どこへ越しても住みにくい</text>
<text class="j" x="1180.2" y="962.1" font-size="5.5">い</text>
<text class="j" x="1180.4" y="977" font-size="6" textLength="62">テキストテキスト</text>
<text class="j" x="1180.2" y="987" font-size="5.5" textLength="101.3">情に棹させば流される。智に働けば</text>
<text class="j" x="1180.2" y="996.2" font-size="5.5" textLength="101.3">角が立つ。どこへ越しても住みにくい</text>
<text class="j" x="1180.2" y="1005.3" font-size="5.5">い</text>
<text class="j" x="1180.4" y="1025.5" font-size="6" textLength="62">テキストテキスト</text>
<text class="j" x="1180.2" y="1035.5" font-size="5.5" textLength="101.3">情に棹させば流される。智に働けば</text>
<text class="j" x="1180.2" y="1044.6" font-size="5.5" textLength="101.3">角が立つ。どこへ越しても住みにくい</text>
<text class="j" x="1180.2" y="1053.4" font-size="5.5">い</text>
<text class="j" x="1180.4" y="1075.7" font-size="6" textLength="62">テキストテキスト</text>
<text class="j" x="1180.2" y="1085.6" font-size="5.5" textLength="101.3">情に棹させば流される。智に働けば</text>
<text class="j" x="1180.2" y="1094.5" font-size="5.5" textLength="101.3">角が立つ。どこへ越しても住みにくい</text>
<text class="j" x="1180.2" y="1103.4" font-size="5.5">い</text>
<rect class="k" x="1150.9" y="1110" width="26.5" height="4.4"/>
<text class="g" x="1157.4" y="1123.4" font-size="5.5" textLength="14.1" lengthAdjust="spacingAndGlyphs">25%</text>
<rect class="k" x="1177.4" y="1114.4" width="103.5" height="3.9"/>
<text class="g" x="1220.6" y="1112" font-size="5.5" textLength="14.2" lengthAdjust="spacingAndGlyphs">75%</text>
<text class="j" x="1180.6" y="1127.8" font-size="6" textLength="62">テキストテキスト</text>
<text class="j" x="1180.6" y="1137.7" font-size="5.5" textLength="101.3">情に棹させば流される。智に働けば</text>
<text class="j" x="1180.6" y="1147.2" font-size="5.5" textLength="101.3">角が立つ。どこへ越しても住みにくい</text>
<text class="j" x="1180.6" y="1156.1" font-size="5.5">い</text>
<rect class="k" x="1176.3" y="1157.6" width="11.2" height="15.8"/>
<text class="g" x="1188.5" y="1169.5" font-size="7.2" textLength="16.2" lengthAdjust="spacingAndGlyphs">45px</text>
<rect class="k" x="1155.1" y="1175.5" width="5.4" height="10.4"/>
<text class="g" x="1165.5" y="1185" font-size="11" textLength="43.6" letter-spacing="3">Carrer</text>
<text class="j" x="1214.4" y="1185" font-size="7" textLength="29">- 経歴 -</text>
<rect class="k" x="1178.6" y="1186.8" width="7.7" height="16.1"/>
<text class="g" x="1188.5" y="1197.8" font-size="7.2" textLength="16.2" lengthAdjust="spacingAndGlyphs">45px</text>
<ellipse class="d" cx="1187.9" cy="1216.1" rx="5.6" ry="5.4"/>
<ellipse class="d" cx="1187.1" cy="1264.1" rx="5.6" ry="5.4"/>
<ellipse class="d" cx="1188.1" cy="1306.4" rx="5.6" ry="5.4"/>
<ellipse class="d" cx="1187.9" cy="1350.2" rx="5.6" ry="5.4"/>
<text class="g" x="1151.8" y="1218.7" font-size="6.5" textLength="20.8" letter-spacing="1.5">2016</text>
<text class="g" x="1151" y="1266.3" font-size="6.5" textLength="20.8" letter-spacing="1.5">2020</text>
<text class="g" x="1151.8" y="1309.5" font-size="6.5" textLength="20" letter-spacing="1.5">2021</text>
<text class="g" x="1151.8" y="1352.7" font-size="6.5" textLength="17.4" letter-spacing="1.5">now</text>
<text class="j" x="1198.7" y="1210.6" font-size="5.5" textLength="83.5">テキストテキストテキスト</text>
<text class="j" x="1198.7" y="1221.1" font-size="5.5" textLength="83.5">テキストテキストテキスト</text>
<text class="j" x="1198.7" y="1231.5" font-size="5.5" textLength="83.5">テキストテキストテキスト</text>
<text class="j" x="1197.9" y="1256.8" font-size="5.5" textLength="83.5">テキストテキストテキスト</text>
<text class="j" x="1197.9" y="1267.2" font-size="5.5" textLength="83.5">テキストテキストテキスト</text>
<text class="j" x="1197.9" y="1277.6" font-size="5.5" textLength="83.5">テキストテキストテキスト</text>
<text class="j" x="1198.7" y="1301.5" font-size="5.5" textLength="83.5">テキストテキストテキスト</text>
<text class="j" x="1198.7" y="1311.9" font-size="5.5" textLength="83.5">テキストテキストテキスト</text>
<text class="j" x="1198.7" y="1322.3" font-size="5.5" textLength="83.5">テキストテキストテキスト</text>
<text class="j" x="1198.7" y="1345.2" font-size="5.5" textLength="83.5">テキストテキストテキスト</text>
<text class="j" x="1198.7" y="1355.7" font-size="5.5" textLength="83.5">テキストテキストテキスト</text>
<text class="j" x="1198.7" y="1366.1" font-size="5.5" textLength="83.5">テキストテキストテキスト</text>
<rect class="k" x="1203.2" y="1233" width="7.7" height="16.4"/>
<text class="g" x="1213.2" y="1244.9" font-size="7.2" textLength="16.2" lengthAdjust="spacingAndGlyphs">45px</text>
<rect class="k" x="1201" y="1278.2" width="7.7" height="16.4"/>
<text class="g" x="1210.9" y="1290.1" font-size="7.2" textLength="16.2" lengthAdjust="spacingAndGlyphs">45px</text>
<rect class="k" x="1197.2" y="1368.2" width="7.8" height="16.3"/>
<text class="g" x="1206.6" y="1380.1" font-size="7.2" textLength="16.2" lengthAdjust="spacingAndGlyphs">45px</text>
<text class="g" x="1193.5" y="1395" font-size="12" textLength="45.5" lengthAdjust="spacingAndGlyphs">Contact</text>
<text class="j" x="1155.8" y="1417.6" font-size="7.35" textLength="117.6">テキストテキストテキストテキスト</text>
<text class="j" x="1155.8" y="1430.7" font-size="7.35" textLength="117.6">テキストテキストテキストテキスト</text>
<text class="j" x="1185.7" y="1444.1" font-size="7.24" textLength="57.9">テキストテキスト</text>
<rect class="b" x="1178.9" y="1458.4" width="72" height="17.3"/>
<text class="g" x="1197.6" y="1469.7" font-size="7" textLength="35.1" lengthAdjust="spacingAndGlyphs">view more</text>
<text class="g" x="1186" y="1501" font-size="4.8" textLength="51" lengthAdjust="spacingAndGlyphs">© Hiroto Kawashita</text>
</g>

<g id="connectors">
<line class="ln" x1="770.6" y1="797.5" x2="770.6" y2="953"/>
<line x1="1187.3" y1="1191.9" x2="1187.3" y2="1361.6" stroke="#6e6262" stroke-width="0.6"/>
</g>

</g>
</svg>
